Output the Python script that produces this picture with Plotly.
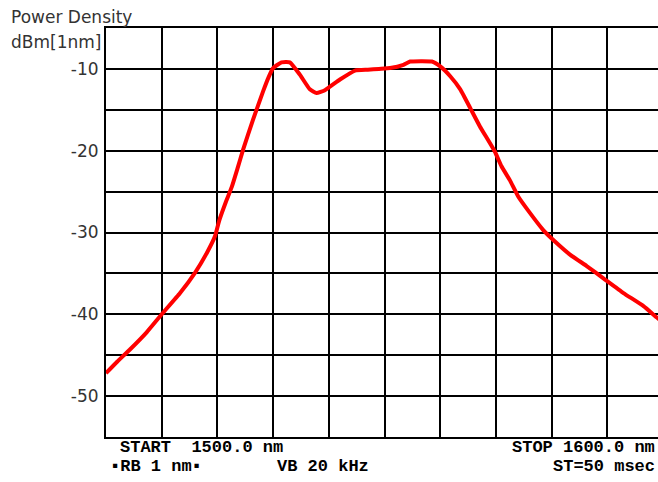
import plotly.graph_objects as go

# Wavelength (nm) and power density (dBm per 1 nm)
wavelength_nm = [1500.0, 1502.0, 1504.3, 1507.3, 1510.0, 1513.3, 1516.0, 1518.1, 1519.6, 1520.3,
                 1521.5, 1522.6, 1523.6, 1524.6, 1526.4, 1528.2, 1529.2, 1530.0, 1531.5, 1533.0,
                 1534.8, 1536.6, 1537.8, 1539.3, 1542.0, 1544.7, 1547.0, 1549.0, 1551.0, 1553.4,
                 1554.6, 1558.5, 1560.0, 1561.8, 1563.6, 1565.4, 1567.1, 1569.8, 1571.0, 1572.5,
                 1574.0, 1576.1, 1578.5, 1580.6, 1583.3, 1586.3, 1589.3, 1592.9, 1596.5, 1598.9,
                 1600.0]
power_dbm = [-47.2, -45.8, -44.3, -42.2, -40.0, -37.4, -34.9, -32.5, -30.4, -28.6,
             -26.3, -24.4, -22.2, -19.9, -16.2, -12.75, -11.0, -9.9, -9.2, -9.2,
             -10.7, -12.5, -12.95, -12.6, -11.3, -10.2, -10.1, -10.0, -9.9, -9.5,
             -9.1, -9.1, -9.7, -10.9, -12.5, -14.8, -17.0, -20.1, -21.9, -23.6,
             -25.6, -27.6, -29.7, -31.1, -32.7, -34.1, -35.6, -37.4, -39.0, -40.4,
             -41.0]

x_grid = [1500, 1510, 1520, 1530, 1540, 1550, 1560, 1570, 1580, 1590, 1600]
y_ticks = [-55, -50, -45, -40, -35, -30, -25, -20, -15, -10, -5]
y_tick_labels = ["", "-50", "", "-40", "", "-30", "", "-20", "", "-10", ""]

y_title = ["Power Density", "dBm[1nm]"]
footer_left = ["START  1500.0 nm", "\u25aaRB 1 nm\u25aa", "VB 20 kHz"]
footer_right = ["STOP 1600.0 nm", "ST=50 msec"]

fig = go.Figure()
fig.add_trace(go.Scatter(
    x=wavelength_nm, y=power_dbm, mode="lines",
    line=dict(color="#ff0000", width=4, shape="spline", smoothing=0.4),
    hoverinfo="skip", showlegend=False,
))

label_font = dict(family="DejaVu Sans, sans-serif", size=17, color="#333333")
mono_font = dict(family="Liberation Mono, DejaVu Sans Mono, monospace", size=17, color="#000000")

fig.update_layout(
    width=658, height=482,
    margin=dict(l=106, r=0, t=28, b=45),
    paper_bgcolor="white", plot_bgcolor="white",
    xaxis=dict(range=[1500, 1599.1], tickvals=x_grid, showticklabels=False,
               showgrid=True, gridcolor="black", gridwidth=2,
               showline=True, linecolor="black", linewidth=2, mirror=True,
               zeroline=False, ticks="", fixedrange=True),
    yaxis=dict(range=[-55, -5], tickvals=y_ticks, ticktext=y_tick_labels,
               showgrid=True, gridcolor="black", gridwidth=2,
               showline=True, linecolor="black", linewidth=2, mirror=False,
               zeroline=False, ticks="", tickfont=label_font, fixedrange=True,
               ticklabelstandoff=2),
    annotations=[
        dict(text=y_title[0], xref="paper", yref="paper", x=-0.176, y=1.028,
             xanchor="left", yanchor="middle", showarrow=False, font=label_font),
        dict(text=y_title[1], xref="paper", yref="paper", x=-0.005, y=0.966,
             xanchor="right", yanchor="middle", showarrow=False, font=label_font),
        dict(text="<b>" + footer_left[0] + "</b>", xref="paper", yref="paper", x=0.0217, y=-0.026,
             xanchor="left", yanchor="middle", showarrow=False, font=mono_font),
        dict(text="<b>" + footer_left[1] + "</b>", xref="paper", yref="paper", x=0.004, y=-0.073,
             xanchor="left", yanchor="middle", showarrow=False, font=mono_font),
        dict(text="<b>" + footer_left[2] + "</b>", xref="paper", yref="paper", x=0.306, y=-0.073,
             xanchor="left", yanchor="middle", showarrow=False, font=mono_font),
        dict(text="<b>" + footer_right[0] + "</b>", xref="paper", yref="paper", x=0.999, y=-0.026,
             xanchor="right", yanchor="middle", showarrow=False, font=mono_font),
        dict(text="<b>" + footer_right[1] + "</b>", xref="paper", yref="paper", x=0.999, y=-0.073,
             xanchor="right", yanchor="middle", showarrow=False, font=mono_font),
    ],
)

fig.write_html("out.html", config={"displayModeBar": False},
               post_script="document.body.style.margin='0';document.body.style.overflow='hidden';")
